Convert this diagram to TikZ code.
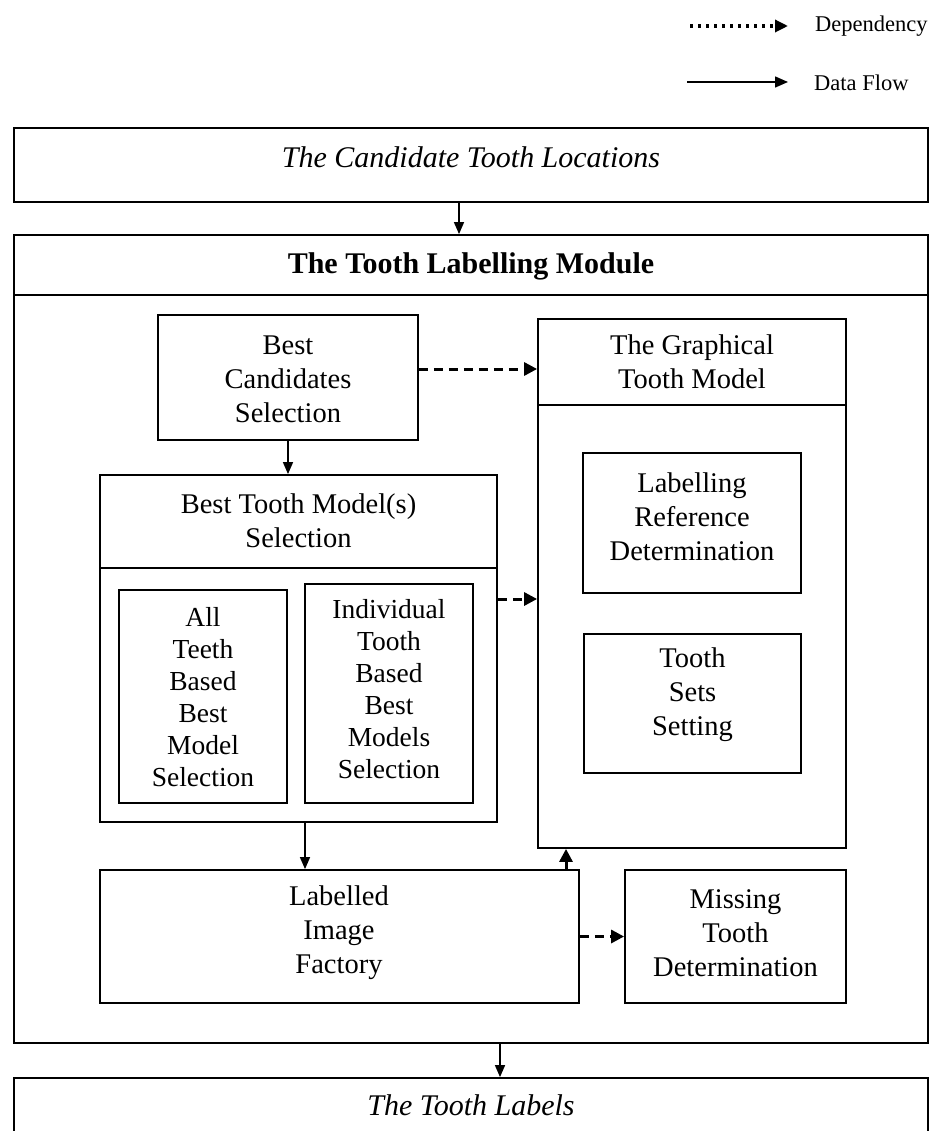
\documentclass[tikz,border=0pt]{standalone}
\usepackage{fontspec}
\setmainfont{Liberation Serif}
\usetikzlibrary{arrows.meta}
\begin{document}
\begin{tikzpicture}[x=1pt,y=-1pt,
  box/.style={draw, line width=1.8pt, inner sep=0pt},
  rule/.style={line width=1.8pt},
  txt/.style={align=center, inner sep=0pt, font=\fontsize{28.5}{34}\selectfont},
  smalltxt/.style={align=center, inner sep=0pt, font=\fontsize{27.5}{32}\selectfont},
  headtxt/.style={inner sep=0pt, font=\fontsize{30}{34}\selectfont\itshape},
  legtxt/.style={anchor=west, inner sep=0pt, font=\fontsize{22.5}{25}\selectfont},
  flow/.style={-{Triangle[length=12pt,width=10pt]}, line width=1.5pt},
  dep/.style={-{Triangle[length=13pt,width=13pt]}, line width=3pt, dash pattern=on 9pt off 6pt},
  dotdep/.style={-{Triangle[length=13pt,width=12pt]}, line width=3.2pt, dash pattern=on 3.2pt off 4.8pt},
]
\useasboundingbox (0,0) rectangle (935,1131);
\clip (0,0) rectangle (935,1131);

% legend
\coordinate (ldA) at (690,26);
\coordinate (ldB) at (788,26);
\coordinate (lfA) at (687,82);
\coordinate (lfB) at (788,82);
\draw[dotdep] (ldA) -- (ldB);
\draw[flow, -{Triangle[length=13pt,width=11pt]}] (lfA) -- (lfB);
\node[legtxt] (legdep) at (815,26) {Dependency};
\node[legtxt] (legflow) at (814,83) {Data Flow};

% input and output boxes
\node[box, minimum width=914pt, minimum height=74pt] (top) at (471,165) {};
\node[headtxt] (toptxt) at (471,157) {The Candidate Tooth Locations};
\node[box, minimum width=914pt, minimum height=82pt] (labels) at (471,1119) {};
\node[headtxt] (labelstxt) at (471,1105) {The Tooth Labels};

% module frame with its title bar
\node[box, minimum width=914pt, minimum height=808pt] (module) at (471,639) {};
\draw[rule] (module.west |- 0,295) -- (module.east |- 0,295);
\node[inner sep=0pt, font=\fontsize{30}{34}\selectfont\bfseries] (title) at (471,266) {The Tooth Labelling Module};

% best candidates selection
\node[box, minimum width=260pt, minimum height=125pt] (cand) at (288,377.5) {};
\node[txt] (candtxt) at (288,379) {Best\\Candidates\\Selection};

% graphical tooth model
\node[box, minimum width=308pt, minimum height=529pt] (graph) at (692,583.5) {};
\draw[rule] (graph.west |- 0,405) -- (graph.east |- 0,405);
\node[txt] (graphtxt) at (692,362) {The Graphical\\Tooth Model};
\node[box, minimum width=218pt, minimum height=140pt] (lref) at (692,523) {};
\node[txt] (lreftxt) at (692,517) {Labelling\\Reference\\Determination};
\node[box, minimum width=217pt, minimum height=139pt] (tsets) at (692.5,703.5) {};
\node[txt] (tsetstxt) at (692.5,695) {Tooth\\Sets\\Setting};

% best tooth model(s) selection
\node[box, minimum width=397pt, minimum height=347pt] (btm) at (298.5,648.5) {};
\draw[rule] (btm.west |- 0,568) -- (btm.east |- 0,568);
\node[txt] (btmtxt) at (298.5,521) {Best Tooth Model(s)\\Selection};
\node[box, minimum width=168pt, minimum height=213pt] (allt) at (203,696.5) {};
\node[smalltxt] (allttxt) at (203,697) {All\\Teeth\\Based\\Best\\Model\\Selection};
\node[box, minimum width=168pt, minimum height=219pt] (indiv) at (389,693.5) {};
\node[smalltxt] (indivtxt) at (389,689) {Individual\\Tooth\\Based\\Best\\Models\\Selection};

% labelled image factory and missing tooth determination
\node[box, minimum width=479pt, minimum height=133pt] (lif) at (339.5,936.5) {};
\node[txt] (liftxt) at (339,933) {Labelled\\Image\\Factory};
\node[box, minimum width=221pt, minimum height=133pt] (miss) at (735.5,936.5) {};
\node[txt] (misstxt) at (735.5,933) {Missing\\Tooth\\Determination};

% data flow
\draw[flow] ([xshift=-12pt]top.south) -- ([xshift=-12pt]module.north);
\draw[flow] ([xshift=29pt]module.south) -- ([xshift=29pt]labels.north);
\draw[flow] (cand.south) -- (cand.south |- btm.north);
\draw[flow] ([xshift=6.5pt]btm.south) coordinate (btmout) -- (btmout |- lif.north);

% dependencies
\draw[dep] ([yshift=8.5pt]cand.east) coordinate (candout) -- (candout -| graph.west);
\draw[dep] ([yshift=49.5pt]btm.east) coordinate (btmdep) -- (btmdep -| graph.west);
\draw[dep] ([xshift=226.5pt]lif.north) coordinate (lifup) -- (lifup |- graph.south);
\draw[dep] (lif.east) -- (miss.west);
\end{tikzpicture}
\end{document}
